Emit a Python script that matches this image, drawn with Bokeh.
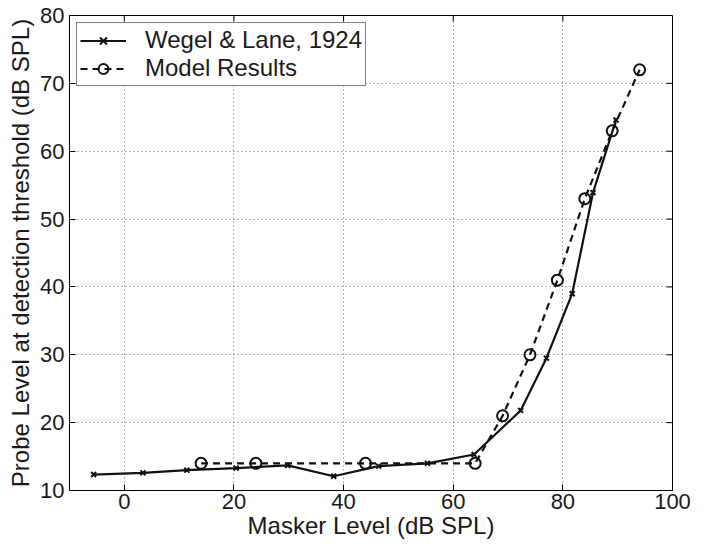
import math
from bokeh.plotting import figure
from bokeh.models import LinearAxis, Range1d, FixedTicker, Legend, LegendItem
from bokeh.embed import file_html
from bokeh.resources import INLINE

# Wegel & Lane, 1924 (masker level, probe threshold)
wl_x = [-5.6, 3.4, 11.4, 20.4, 29.8, 38.2, 46.4, 55.3, 63.8, 72.3, 77.0, 81.7, 85.5, 89.7]
wl_y = [12.35, 12.6, 13.0, 13.3, 13.7, 12.1, 13.6, 14.0, 15.3, 21.8, 29.5, 39.0, 53.9, 64.6]
# Model results
mr_x = [14, 24, 44, 64, 69, 74, 79, 84, 89, 94]
mr_y = [14, 14, 14, 14, 21, 30, 41, 53, 63, 72]

x_ticks = [0, 20, 40, 60, 80, 100]
y_ticks = [10, 20, 30, 40, 50, 60, 70, 80]
X_MIN, X_MAX = -10, 100
Y_MIN, Y_MAX = 10, 80

FONT = "Liberation Sans"
FS = "22px"
LFS = "24px"
TXT = "#1a1a1a"

p = figure(width=700, height=541, output_backend="svg", toolbar_location=None,
           x_range=Range1d(X_MIN, X_MAX), y_range=Range1d(Y_MIN, Y_MAX),
           min_border_left=69, min_border_right=28, min_border_top=15, min_border_bottom=40,
           x_axis_location=None, y_axis_location=None)
p.outline_line_color = "black"
p.outline_line_width = 1
p.background_fill_color = "white"

def style_axis(ax):
    ax.axis_line_color = "black"
    ax.axis_line_width = 1
    ax.major_tick_in = 6
    ax.major_tick_out = 0
    ax.minor_tick_line_color = None
    ax.major_tick_line_color = "black"
    ax.major_label_text_font = FONT
    ax.major_label_text_font_size = FS
    ax.major_label_text_color = TXT
    ax.axis_label_text_font = FONT
    ax.axis_label_text_font_size = LFS
    ax.axis_label_text_font_style = "normal"
    ax.axis_label_text_color = TXT

xb = LinearAxis(ticker=FixedTicker(ticks=x_ticks), axis_label="Masker Level (dB SPL)")
style_axis(xb)
xb.major_label_standoff = 3
xb.axis_label_standoff = 0
p.add_layout(xb, "below")

yl = LinearAxis(ticker=FixedTicker(ticks=y_ticks),
                axis_label="Probe Level at detection threshold (dB SPL)")
style_axis(yl)
yl.major_label_standoff = 5
yl.axis_label_standoff = 3
p.add_layout(yl, "left")

# inward tick marks on the top and right edges of the box
p.ray(x=x_ticks, y=[Y_MAX] * len(x_ticks), length=6, length_units="screen",
      angle=-math.pi / 2, line_color="black", line_width=1)
p.ray(x=[X_MAX] * len(y_ticks), y=y_ticks, length=6, length_units="screen",
      angle=math.pi, line_color="black", line_width=1)

p.xgrid.ticker = FixedTicker(ticks=x_ticks)
p.ygrid.ticker = FixedTicker(ticks=y_ticks)
for g in (p.xgrid, p.ygrid):
    g.grid_line_color = "#444444"
    g.grid_line_dash = "1 3"
    g.grid_line_width = 1
    g.grid_line_alpha = 0.8

l1 = p.line(wl_x, wl_y, line_color="#111111", line_width=2.2)
m1 = p.scatter(wl_x, wl_y, marker="x", size=7, line_color="#111111", line_width=2)
l2 = p.line(mr_x, mr_y, line_color="#111111", line_width=2.2, line_dash="7 5")
m2 = p.scatter(mr_x, mr_y, marker="circle", size=11, line_color="#111111",
               line_width=2, fill_color="white", fill_alpha=0)

legend = Legend(items=[LegendItem(label="Wegel & Lane, 1924", renderers=[l1, m1]),
                       LegendItem(label="Model Results", renderers=[l2, m2])],
                location="top_left")
legend.margin = 7
legend.padding = 3
legend.spacing = 0
legend.glyph_width = 46
legend.glyph_height = 25
legend.label_standoff = 19
legend.label_height = 25
legend.label_text_font = FONT
legend.label_text_font_size = LFS
legend.label_text_color = TXT
legend.border_line_color = "black"
legend.border_line_width = 1.5
legend.background_fill_alpha = 1
p.add_layout(legend, "center")

open("out.html", "w").write(file_html(p, INLINE))
